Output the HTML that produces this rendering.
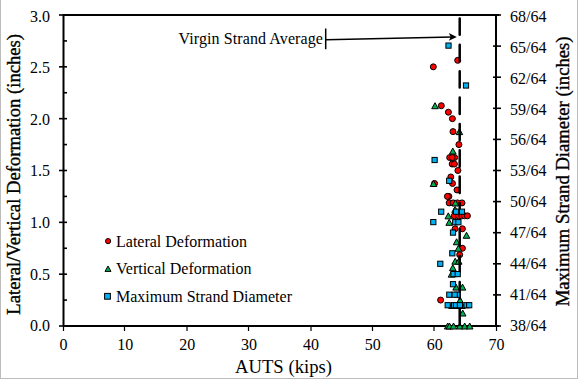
<!DOCTYPE html>
<html><head><meta charset="utf-8"><style>
html,body{margin:0;padding:0;background:#fff;overflow:hidden}
svg{display:block}
.t16{font-family:"Liberation Serif",serif;font-size:16px;fill:#000}
.t14{font-family:"Liberation Serif",serif;font-size:18.67px;fill:#000}
.rt{stroke:#000;stroke-width:0.35px}
</style></head><body>
<svg width="578" height="379" viewBox="0 0 578 379">
<rect x="0" y="0" width="578" height="379" fill="#fff"/>
<rect x="0" y="0" width="1" height="379" fill="#bcbcbc" shape-rendering="crispEdges"/>
<rect x="577" y="0" width="1" height="379" fill="#bcbcbc" shape-rendering="crispEdges"/>
<rect x="0" y="378" width="578" height="1" fill="#bcbcbc" shape-rendering="crispEdges"/>
<rect x="63" y="14" width="436.0" height="2" fill="#000"/>
<rect x="63" y="325" width="436.0" height="2" fill="#000"/>
<rect x="62.5" y="14" width="2" height="312.0" fill="#000"/>
<rect x="495" y="14" width="2" height="312.0" fill="#000"/>
<line x1="59" y1="326.00" x2="67" y2="326.00" stroke="#000" stroke-width="1.6"/>
<text x="50" y="331.25" text-anchor="end" class="t16">0.0</text>
<line x1="59" y1="274.17" x2="67" y2="274.17" stroke="#000" stroke-width="1.6"/>
<text x="50" y="279.65" text-anchor="end" class="t16">0.5</text>
<line x1="59" y1="222.33" x2="67" y2="222.33" stroke="#000" stroke-width="1.6"/>
<text x="50" y="228.05" text-anchor="end" class="t16">1.0</text>
<line x1="59" y1="170.50" x2="67" y2="170.50" stroke="#000" stroke-width="1.6"/>
<text x="50" y="176.45" text-anchor="end" class="t16">1.5</text>
<line x1="59" y1="118.67" x2="67" y2="118.67" stroke="#000" stroke-width="1.6"/>
<text x="50" y="124.85" text-anchor="end" class="t16">2.0</text>
<line x1="59" y1="66.83" x2="67" y2="66.83" stroke="#000" stroke-width="1.6"/>
<text x="50" y="73.25" text-anchor="end" class="t16">2.5</text>
<line x1="59" y1="15.00" x2="67" y2="15.00" stroke="#000" stroke-width="1.6"/>
<text x="50" y="21.65" text-anchor="end" class="t16">3.0</text>
<line x1="64" y1="300.08" x2="67" y2="300.08" stroke="#000" stroke-width="1.6"/>
<line x1="64" y1="248.25" x2="67" y2="248.25" stroke="#000" stroke-width="1.6"/>
<line x1="64" y1="196.42" x2="67" y2="196.42" stroke="#000" stroke-width="1.6"/>
<line x1="64" y1="144.58" x2="67" y2="144.58" stroke="#000" stroke-width="1.6"/>
<line x1="64" y1="92.75" x2="67" y2="92.75" stroke="#000" stroke-width="1.6"/>
<line x1="64" y1="40.92" x2="67" y2="40.92" stroke="#000" stroke-width="1.6"/>
<line x1="493" y1="326.00" x2="501" y2="326.00" stroke="#000" stroke-width="1.6"/>
<text x="510" y="331.25" class="t16">38/64</text>
<line x1="493" y1="294.90" x2="501" y2="294.90" stroke="#000" stroke-width="1.6"/>
<text x="510" y="300.29" class="t16">41/64</text>
<line x1="493" y1="263.80" x2="501" y2="263.80" stroke="#000" stroke-width="1.6"/>
<text x="510" y="269.33" class="t16">44/64</text>
<line x1="493" y1="232.70" x2="501" y2="232.70" stroke="#000" stroke-width="1.6"/>
<text x="510" y="238.37" class="t16">47/64</text>
<line x1="493" y1="201.60" x2="501" y2="201.60" stroke="#000" stroke-width="1.6"/>
<text x="510" y="207.41" class="t16">50/64</text>
<line x1="493" y1="170.50" x2="501" y2="170.50" stroke="#000" stroke-width="1.6"/>
<text x="510" y="176.45" class="t16">53/64</text>
<line x1="493" y1="139.40" x2="501" y2="139.40" stroke="#000" stroke-width="1.6"/>
<text x="510" y="145.49" class="t16">56/64</text>
<line x1="493" y1="108.30" x2="501" y2="108.30" stroke="#000" stroke-width="1.6"/>
<text x="510" y="114.53" class="t16">59/64</text>
<line x1="493" y1="77.20" x2="501" y2="77.20" stroke="#000" stroke-width="1.6"/>
<text x="510" y="83.57" class="t16">62/64</text>
<line x1="493" y1="46.10" x2="501" y2="46.10" stroke="#000" stroke-width="1.6"/>
<text x="510" y="52.61" class="t16">65/64</text>
<line x1="493" y1="15.00" x2="501" y2="15.00" stroke="#000" stroke-width="1.6"/>
<text x="510" y="21.65" class="t16">68/64</text>
<line x1="63.50" y1="326" x2="63.50" y2="331" stroke="#000" stroke-width="1.2"/>
<text x="63.50" y="350" text-anchor="middle" class="t16">0</text>
<line x1="124.50" y1="326" x2="124.50" y2="331" stroke="#000" stroke-width="1.2"/>
<text x="125.36" y="350" text-anchor="middle" class="t16">10</text>
<line x1="187.00" y1="326" x2="187.00" y2="331" stroke="#000" stroke-width="1.2"/>
<text x="187.21" y="350" text-anchor="middle" class="t16">20</text>
<line x1="248.50" y1="326" x2="248.50" y2="331" stroke="#000" stroke-width="1.2"/>
<text x="249.07" y="350" text-anchor="middle" class="t16">30</text>
<line x1="311.00" y1="326" x2="311.00" y2="331" stroke="#000" stroke-width="1.2"/>
<text x="310.93" y="350" text-anchor="middle" class="t16">40</text>
<line x1="372.50" y1="326" x2="372.50" y2="331" stroke="#000" stroke-width="1.2"/>
<text x="372.79" y="350" text-anchor="middle" class="t16">50</text>
<line x1="434.00" y1="326" x2="434.00" y2="331" stroke="#000" stroke-width="1.2"/>
<text x="434.64" y="350" text-anchor="middle" class="t16">60</text>
<line x1="496.50" y1="326" x2="496.50" y2="331" stroke="#000" stroke-width="1.2"/>
<text x="496.50" y="350" text-anchor="middle" class="t16">70</text>
<text x="283.5" y="373" text-anchor="middle" class="t14">AUTS (kips)</text>
<text transform="translate(20.3,174.3) rotate(-90)" text-anchor="middle" class="t14 rt">Lateral/Vertical Deformation (inches)</text>
<text transform="translate(568.5,171.4) rotate(-90)" text-anchor="middle" class="t14 rt">Maximum Strand Diameter (inches)</text>
<text x="178.5" y="44.3" class="t16" letter-spacing="0.1">Virgin Strand Average</text>
<line x1="325.7" y1="28.5" x2="325.7" y2="49.2" stroke="#000" stroke-width="1.5"/>
<line x1="326" y1="39.7" x2="452" y2="37.0" stroke="#000" stroke-width="1.6"/>
<path d="M456.8,36.9 L448.8,33.0 L450.8,36.9 L448.8,40.8 Z" fill="#000"/>
<circle cx="108.10" cy="241.10" r="2.6" fill="#ff0000" stroke="#000" stroke-width="1"/>
<text x="116" y="246.5" class="t16">Lateral Deformation</text>
<path d="M108.00,266.00 L111.00,271.40 L105.00,271.40 Z" fill="#00b050" stroke="#000" stroke-width="1" stroke-linejoin="round"/>
<text x="116" y="273.7" class="t16">Vertical Deformation</text>
<rect x="104.60" y="293.40" width="5.8" height="5.8" fill="#00b0f0" stroke="#000" stroke-width="1"/>
<text x="116" y="301.7" class="t16">Maximum Strand Diameter</text>
<path d="M435.00,102.71 L438.30,108.71 L431.70,108.71 Z" fill="#00b050" stroke="#000" stroke-width="1" stroke-linejoin="round"/>
<path d="M452.80,148.06 L456.10,154.06 L449.50,154.06 Z" fill="#00b050" stroke="#000" stroke-width="1" stroke-linejoin="round"/>
<path d="M448.30,212.85 L451.60,218.85 L445.00,218.85 Z" fill="#00b050" stroke="#000" stroke-width="1" stroke-linejoin="round"/>
<circle cx="441.30" cy="105.71" r="3.0" fill="#ff0000" stroke="#000" stroke-width="1"/>
<circle cx="433.30" cy="66.83" r="3.0" fill="#ff0000" stroke="#000" stroke-width="1"/>
<circle cx="457.70" cy="60.35" r="3.0" fill="#ff0000" stroke="#000" stroke-width="1"/>
<circle cx="448.40" cy="112.19" r="3.0" fill="#ff0000" stroke="#000" stroke-width="1"/>
<circle cx="452.40" cy="118.67" r="3.0" fill="#ff0000" stroke="#000" stroke-width="1"/>
<circle cx="453.00" cy="131.62" r="3.0" fill="#ff0000" stroke="#000" stroke-width="1"/>
<circle cx="458.90" cy="144.58" r="3.0" fill="#ff0000" stroke="#000" stroke-width="1"/>
<circle cx="449.70" cy="157.54" r="3.0" fill="#ff0000" stroke="#000" stroke-width="1"/>
<circle cx="454.60" cy="157.54" r="3.0" fill="#ff0000" stroke="#000" stroke-width="1"/>
<circle cx="452.20" cy="157.54" r="3.0" fill="#ff0000" stroke="#000" stroke-width="1"/>
<circle cx="452.20" cy="164.02" r="3.0" fill="#ff0000" stroke="#000" stroke-width="1"/>
<circle cx="454.40" cy="164.02" r="3.0" fill="#ff0000" stroke="#000" stroke-width="1"/>
<circle cx="457.90" cy="170.50" r="3.0" fill="#ff0000" stroke="#000" stroke-width="1"/>
<circle cx="450.80" cy="176.98" r="3.0" fill="#ff0000" stroke="#000" stroke-width="1"/>
<circle cx="452.50" cy="183.46" r="3.0" fill="#ff0000" stroke="#000" stroke-width="1"/>
<circle cx="434.50" cy="183.46" r="3.0" fill="#ff0000" stroke="#000" stroke-width="1"/>
<circle cx="457.00" cy="189.94" r="3.0" fill="#ff0000" stroke="#000" stroke-width="1"/>
<circle cx="448.90" cy="196.42" r="3.0" fill="#ff0000" stroke="#000" stroke-width="1"/>
<circle cx="447.40" cy="196.42" r="3.0" fill="#ff0000" stroke="#000" stroke-width="1"/>
<circle cx="449.20" cy="202.90" r="3.0" fill="#ff0000" stroke="#000" stroke-width="1"/>
<circle cx="453.10" cy="202.90" r="3.0" fill="#ff0000" stroke="#000" stroke-width="1"/>
<circle cx="457.50" cy="202.90" r="3.0" fill="#ff0000" stroke="#000" stroke-width="1"/>
<circle cx="462.00" cy="202.90" r="3.0" fill="#ff0000" stroke="#000" stroke-width="1"/>
<circle cx="455.10" cy="228.81" r="3.0" fill="#ff0000" stroke="#000" stroke-width="1"/>
<circle cx="462.40" cy="228.81" r="3.0" fill="#ff0000" stroke="#000" stroke-width="1"/>
<circle cx="462.40" cy="248.25" r="3.0" fill="#ff0000" stroke="#000" stroke-width="1"/>
<circle cx="459.70" cy="254.73" r="3.0" fill="#ff0000" stroke="#000" stroke-width="1"/>
<circle cx="440.60" cy="300.08" r="3.0" fill="#ff0000" stroke="#000" stroke-width="1"/>
<path d="M459.40,128.62 L462.70,134.62 L456.10,134.62 Z" fill="#00b050" stroke="#000" stroke-width="1" stroke-linejoin="round"/>
<path d="M433.50,180.46 L436.80,186.46 L430.20,186.46 Z" fill="#00b050" stroke="#000" stroke-width="1" stroke-linejoin="round"/>
<path d="M455.40,199.90 L458.70,205.90 L452.10,205.90 Z" fill="#00b050" stroke="#000" stroke-width="1" stroke-linejoin="round"/>
<path d="M455.10,206.38 L458.40,212.38 L451.80,212.38 Z" fill="#00b050" stroke="#000" stroke-width="1" stroke-linejoin="round"/>
<path d="M449.20,219.33 L452.50,225.33 L445.90,225.33 Z" fill="#00b050" stroke="#000" stroke-width="1" stroke-linejoin="round"/>
<path d="M466.50,232.29 L469.80,238.29 L463.20,238.29 Z" fill="#00b050" stroke="#000" stroke-width="1" stroke-linejoin="round"/>
<path d="M456.60,238.77 L459.90,244.77 L453.30,244.77 Z" fill="#00b050" stroke="#000" stroke-width="1" stroke-linejoin="round"/>
<path d="M458.40,245.25 L461.70,251.25 L455.10,251.25 Z" fill="#00b050" stroke="#000" stroke-width="1" stroke-linejoin="round"/>
<path d="M455.20,258.21 L458.50,264.21 L451.90,264.21 Z" fill="#00b050" stroke="#000" stroke-width="1" stroke-linejoin="round"/>
<path d="M458.70,258.21 L462.00,264.21 L455.40,264.21 Z" fill="#00b050" stroke="#000" stroke-width="1" stroke-linejoin="round"/>
<path d="M452.80,264.69 L456.10,270.69 L449.50,270.69 Z" fill="#00b050" stroke="#000" stroke-width="1" stroke-linejoin="round"/>
<path d="M451.50,271.17 L454.80,277.17 L448.20,277.17 Z" fill="#00b050" stroke="#000" stroke-width="1" stroke-linejoin="round"/>
<path d="M456.10,284.12 L459.40,290.12 L452.80,290.12 Z" fill="#00b050" stroke="#000" stroke-width="1" stroke-linejoin="round"/>
<path d="M462.50,284.12 L465.80,290.12 L459.20,290.12 Z" fill="#00b050" stroke="#000" stroke-width="1" stroke-linejoin="round"/>
<path d="M460.10,297.08 L463.40,303.08 L456.80,303.08 Z" fill="#00b050" stroke="#000" stroke-width="1" stroke-linejoin="round"/>
<path d="M452.00,302.47 L455.30,308.47 L448.70,308.47 Z" fill="#00b050" stroke="#000" stroke-width="1" stroke-linejoin="round"/>
<path d="M456.00,302.47 L459.30,308.47 L452.70,308.47 Z" fill="#00b050" stroke="#000" stroke-width="1" stroke-linejoin="round"/>
<path d="M462.00,302.47 L465.30,308.47 L458.70,308.47 Z" fill="#00b050" stroke="#000" stroke-width="1" stroke-linejoin="round"/>
<path d="M462.70,310.04 L466.00,316.04 L459.40,316.04 Z" fill="#00b050" stroke="#000" stroke-width="1" stroke-linejoin="round"/>
<path d="M447.70,323.00 L451.00,329.00 L444.40,329.00 Z" fill="#00b050" stroke="#000" stroke-width="1" stroke-linejoin="round"/>
<path d="M449.50,323.00 L452.80,329.00 L446.20,329.00 Z" fill="#00b050" stroke="#000" stroke-width="1" stroke-linejoin="round"/>
<path d="M453.50,323.00 L456.80,329.00 L450.20,329.00 Z" fill="#00b050" stroke="#000" stroke-width="1" stroke-linejoin="round"/>
<path d="M459.80,323.00 L463.10,329.00 L456.50,329.00 Z" fill="#00b050" stroke="#000" stroke-width="1" stroke-linejoin="round"/>
<path d="M464.70,323.00 L468.00,329.00 L461.40,329.00 Z" fill="#00b050" stroke="#000" stroke-width="1" stroke-linejoin="round"/>
<path d="M469.70,323.00 L473.00,329.00 L466.40,329.00 Z" fill="#00b050" stroke="#000" stroke-width="1" stroke-linejoin="round"/>
<line x1="459.7" y1="18.45" x2="459.7" y2="326" stroke="#000" stroke-width="2.5" stroke-linecap="round" stroke-dasharray="16.4 9.96"/>
<circle cx="454.30" cy="215.85" r="3.0" fill="#ff0000" stroke="#000" stroke-width="1"/>
<circle cx="458.50" cy="215.85" r="3.0" fill="#ff0000" stroke="#000" stroke-width="1"/>
<circle cx="461.80" cy="215.85" r="3.0" fill="#ff0000" stroke="#000" stroke-width="1"/>
<circle cx="464.50" cy="215.85" r="3.0" fill="#ff0000" stroke="#000" stroke-width="1"/>
<circle cx="467.40" cy="215.85" r="3.0" fill="#ff0000" stroke="#000" stroke-width="1"/>
<rect x="445.90" y="43.00" width="5.2" height="5.2" fill="#00b0f0" stroke="#000" stroke-width="1"/>
<rect x="463.40" y="82.90" width="5.2" height="5.2" fill="#00b0f0" stroke="#000" stroke-width="1"/>
<rect x="432.00" y="157.40" width="5.2" height="5.2" fill="#00b0f0" stroke="#000" stroke-width="1"/>
<rect x="446.60" y="178.20" width="5.2" height="5.2" fill="#00b0f0" stroke="#000" stroke-width="1"/>
<rect x="438.60" y="209.10" width="5.2" height="5.2" fill="#00b0f0" stroke="#000" stroke-width="1"/>
<rect x="453.50" y="209.10" width="5.2" height="5.2" fill="#00b0f0" stroke="#000" stroke-width="1"/>
<rect x="459.40" y="209.10" width="5.2" height="5.2" fill="#00b0f0" stroke="#000" stroke-width="1"/>
<rect x="430.70" y="219.50" width="5.2" height="5.2" fill="#00b0f0" stroke="#000" stroke-width="1"/>
<rect x="452.60" y="219.60" width="5.2" height="5.2" fill="#00b0f0" stroke="#000" stroke-width="1"/>
<rect x="455.80" y="219.60" width="5.2" height="5.2" fill="#00b0f0" stroke="#000" stroke-width="1"/>
<rect x="450.40" y="230.00" width="5.2" height="5.2" fill="#00b0f0" stroke="#000" stroke-width="1"/>
<rect x="449.70" y="250.70" width="5.2" height="5.2" fill="#00b0f0" stroke="#000" stroke-width="1"/>
<rect x="437.70" y="261.20" width="5.2" height="5.2" fill="#00b0f0" stroke="#000" stroke-width="1"/>
<rect x="450.90" y="271.50" width="5.2" height="5.2" fill="#00b0f0" stroke="#000" stroke-width="1"/>
<rect x="455.10" y="271.50" width="5.2" height="5.2" fill="#00b0f0" stroke="#000" stroke-width="1"/>
<rect x="450.40" y="281.60" width="5.2" height="5.2" fill="#00b0f0" stroke="#000" stroke-width="1"/>
<rect x="454.70" y="292.10" width="5.2" height="5.2" fill="#00b0f0" stroke="#000" stroke-width="1"/>
<rect x="446.70" y="292.10" width="5.2" height="5.2" fill="#00b0f0" stroke="#000" stroke-width="1"/>
<rect x="452.10" y="292.10" width="5.2" height="5.2" fill="#00b0f0" stroke="#000" stroke-width="1"/>
<rect x="445.10" y="302.60" width="5.2" height="5.2" fill="#00b0f0" stroke="#000" stroke-width="1"/>
<rect x="451.40" y="302.60" width="5.2" height="5.2" fill="#00b0f0" stroke="#000" stroke-width="1"/>
<rect x="453.40" y="302.60" width="5.2" height="5.2" fill="#00b0f0" stroke="#000" stroke-width="1"/>
<rect x="457.30" y="302.60" width="5.2" height="5.2" fill="#00b0f0" stroke="#000" stroke-width="1"/>
<rect x="463.90" y="302.60" width="5.2" height="5.2" fill="#00b0f0" stroke="#000" stroke-width="1"/>
<rect x="466.60" y="302.60" width="5.2" height="5.2" fill="#00b0f0" stroke="#000" stroke-width="1"/>
</svg>
</body></html>
